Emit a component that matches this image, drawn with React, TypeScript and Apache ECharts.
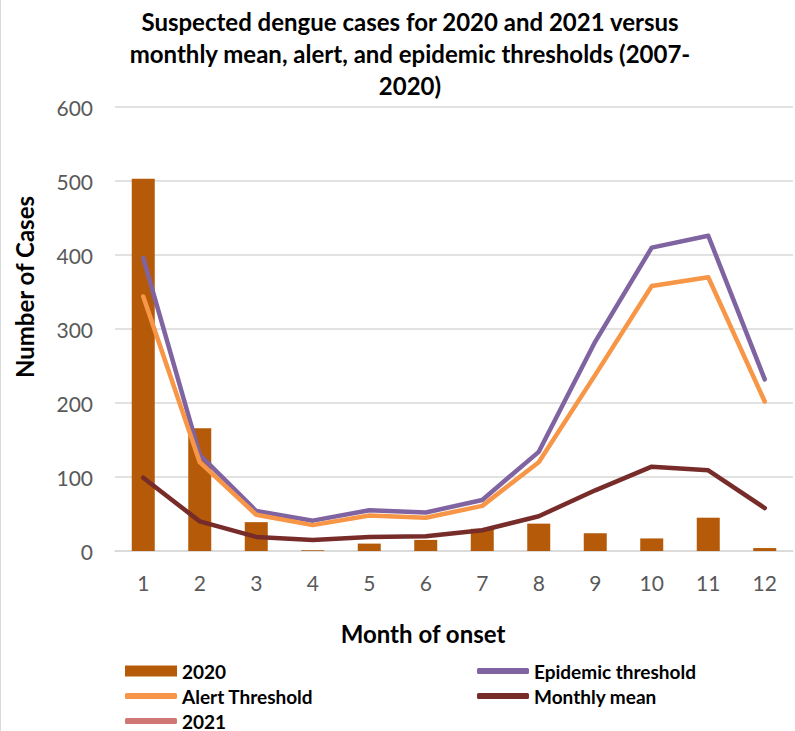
import React, { useEffect, useRef } from "react";
import * as echarts from "echarts";

const months = ["1", "2", "3", "4", "5", "6", "7", "8", "9", "10", "11", "12"];
const cases2020 = [503, 166, 39, 1, 10, 15, 30, 37, 24, 17, 45, 4];
const epidemicThreshold = [396, 130, 54, 41, 55, 52, 69, 134, 283, 410, 426, 232];
const alertThreshold = [344, 120, 49, 35, 48, 45, 61, 120, 238, 358, 370, 202];
const monthlyMean = [99, 40, 19, 15, 19, 20, 28, 47, 82, 114, 109, 58];
const cases2021: (number | null)[] = [];
const yTicks = { min: 0, max: 600, interval: 100 };

const FONT = "Lato, 'Noto Sans', sans-serif";
const TITLE =
  "Suspected dengue cases for 2020 and 2021 versus\nmonthly mean, alert, and epidemic thresholds (2007-\n2020)";

export default function App() {
  const ref = useRef<HTMLDivElement>(null);
  useEffect(() => {
    if (!ref.current) return;
    const chart = echarts.init(ref.current, null, { renderer: "svg" });
    const legendText = { fontFamily: FONT, fontSize: 19, fontWeight: "bold", color: "#000", lineHeight: 20 };
    const mkLegend = (name: string, left: number, rowCenter: number, h: number, icon: string) => ({
      show: true,
      data: [name],
      left,
      top: rowCenter - 10,
      padding: 0,
      itemWidth: 52,
      itemHeight: h,
      itemGap: 5,
      icon,
      textStyle: legendText,
      selectedMode: false,
    });
    chart.setOption({
      animation: false,
      textStyle: { fontFamily: FONT },
      legend: [
        mkLegend("2020", 125, 671, 11, "rect"),
        mkLegend("Alert Threshold", 125, 696, 6, "roundRect"),
        mkLegend("2021", 125, 721, 6, "roundRect"),
        mkLegend("Epidemic threshold", 477, 671, 6, "roundRect"),
        mkLegend("Monthly mean", 477, 696, 6, "roundRect"),
      ],
      grid: { left: 115, right: 2, top: 107, bottom: 180, containLabel: false },
      xAxis: {
        type: "category",
        data: months,
        axisLine: { lineStyle: { color: "#D9D9D9", width: 1.5 } },
        axisTick: { show: false },
        axisLabel: { fontFamily: FONT, fontSize: 21, color: "#595959", margin: 21 },
      },
      yAxis: {
        type: "value",
        min: yTicks.min,
        max: yTicks.max,
        interval: yTicks.interval,
        axisLine: { show: false },
        axisTick: { show: false },
        axisLabel: { fontFamily: FONT, fontSize: 21, color: "#595959", margin: 22 },
        splitLine: { lineStyle: { color: "#D9D9D9", width: 1.5 } },
      },
      graphic: [
        {
          type: "text",
          x: 410,
          y: 5,
          style: {
            text: TITLE,
            fontFamily: FONT,
            fontSize: 24,
            fontWeight: "bold",
            fill: "#000",
            align: "center",
            verticalAlign: "top",
            lineHeight: 32,
          },
        },
        {
          type: "text",
          x: 24,
          y: 287,
          rotation: Math.PI / 2,
          style: {
            text: "Number of Cases",
            fontFamily: FONT,
            fontSize: 24,
            fontWeight: "bold",
            fill: "#000",
            align: "center",
            verticalAlign: "middle",
          },
        },
        {
          type: "text",
          x: 423,
          y: 633,
          style: {
            text: "Month of onset",
            fontFamily: FONT,
            fontSize: 24,
            fontWeight: "bold",
            fill: "#000",
            align: "center",
            verticalAlign: "middle",
          },
        },
        {
          type: "line",
          shape: { x1: 0.5, y1: 0, x2: 0.5, y2: 731 },
          style: { stroke: "#D9D9D9", lineWidth: 1 },
        },
      ],
      series: [
        {
          name: "2020",
          type: "bar",
          data: cases2020,
          barWidth: 23,
          itemStyle: { color: "#B55A08" },
        },
        {
          name: "Epidemic threshold",
          type: "line",
          data: epidemicThreshold,
          symbol: "none",
          lineStyle: { color: "#8064A2", width: 4.5, cap: "round", join: "round" },
          itemStyle: { color: "#8064A2" },
        },
        {
          name: "Alert Threshold",
          type: "line",
          data: alertThreshold,
          symbol: "none",
          lineStyle: { color: "#F79646", width: 4.5, cap: "round", join: "round" },
          itemStyle: { color: "#F79646" },
        },
        {
          name: "Monthly mean",
          type: "line",
          data: monthlyMean,
          symbol: "none",
          lineStyle: { color: "#772C2A", width: 4.5, cap: "round", join: "round" },
          itemStyle: { color: "#772C2A" },
        },
        {
          name: "2021",
          type: "line",
          data: cases2021,
          symbol: "none",
          lineStyle: { color: "#D17676", width: 4.5 },
          itemStyle: { color: "#D17676" },
        },
      ],
    });
    return () => chart.dispose();
  }, []);
  return (
    <div
      ref={ref}
      style={{ position: "absolute", left: 0, top: 0, width: 795, height: 731, background: "#fff" }}
    />
  );
}
